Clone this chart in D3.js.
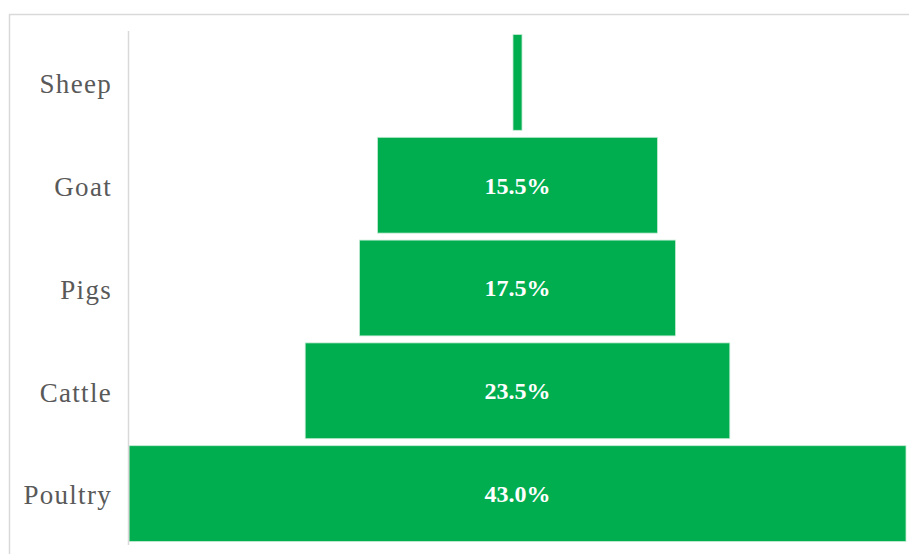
<!DOCTYPE html>
<html>
<head>
<meta charset="utf-8">
<script src="https://cdn.jsdelivr.net/npm/d3@7"></script>
<style>
  html, body { margin: 0; padding: 0; background: #fff; }
</style>
</head>
<body>
<div id="chart"></div>
<script>
const categories = ['Sheep', 'Goat', 'Pigs', 'Cattle', 'Poultry']
const values = [0.5, 15.5, 17.5, 23.5, 43.0]

const W = 909
const H = 554
const margin = { top: 31, right: 3, bottom: 9, left: 129 }
const width = W - margin.left - margin.right
const height = H - margin.top - margin.bottom

const svg = d3.select('#chart')
  .append('svg')
  .attr('width', W)
  .attr('height', H)

// chart frame
svg.append('path')
  .attr('d', `M9.5,${H} V14.5 H${W}`)
  .attr('fill', 'none')
  .attr('stroke', '#d9d9d9')
  .attr('stroke-width', 1.5)

const g = svg.append('g')
  .attr('transform', `translate(${margin.left},${margin.top})`)

const y = d3.scaleBand()
  .domain(categories)
  .range([0, height])
  .paddingInner(0.068)
  .paddingOuter(0.034)

const w = d3.scaleLinear()
  .domain([0, d3.max(values)])
  .range([0, width])

const cx = width / 2

g.selectAll('rect.bar')
  .data(categories)
  .enter()
  .append('rect')
  .attr('class', 'bar')
  .attr('x', (d, i) => cx - w(values[i]) / 2)
  .attr('y', d => y(d))
  .attr('width', (d, i) => w(values[i]))
  .attr('height', y.bandwidth())
  .attr('fill', '#00ae4f')
  .attr('stroke', '#c8ecd6')
  .attr('stroke-width', 0.8)

g.selectAll('text.val')
  .data(categories.filter((d, i) => values[i] >= 5))
  .enter()
  .append('text')
  .attr('class', 'val')
  .attr('x', cx)
  .attr('y', d => y(d) + y.bandwidth() / 2)
  .attr('dy', '0.35em')
  .attr('text-anchor', 'middle')
  .attr('font-family', '"Liberation Serif", "DejaVu Serif", serif')
  .attr('font-weight', 'bold')
  .attr('font-size', 24)
  .attr('fill', '#fff')
  .text(d => values[categories.indexOf(d)].toFixed(1) + '%')

// category axis
const axis = g.append('g')
  .call(d3.axisLeft(y).tickSize(0).tickPadding(17))
axis.select('.domain')
  .attr('stroke', '#d9d9d9')
  .attr('stroke-width', 1.5)
  .attr('d', `M-0.5,0V${height}`)
axis.selectAll('text')
  .attr('dy', '0.4em')
  .attr('font-family', '"Liberation Serif", "DejaVu Serif", serif')
  .attr('font-size', 27)
  .attr('letter-spacing', 1.3)
  .attr('fill', '#595959')
</script>
</body>
</html>
